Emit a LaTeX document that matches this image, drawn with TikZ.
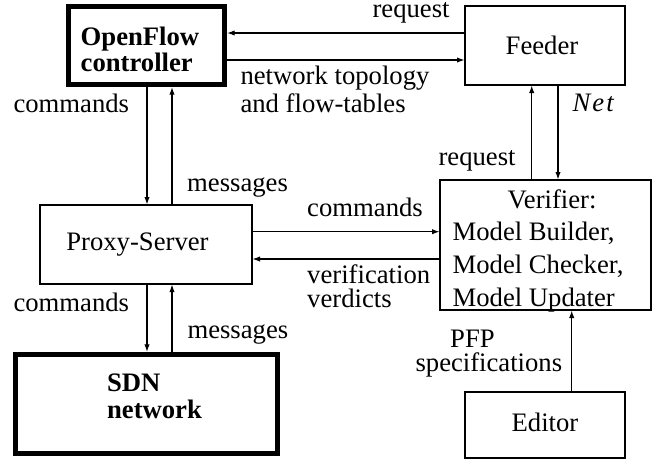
\documentclass[tikz,border=0pt]{standalone}
\usepackage{fontspec}
\setmainfont{Liberation Serif}
\usetikzlibrary{arrows.meta}
\newcommand\pxx{*0.375pt}
\begin{document}
\begin{tikzpicture}[x=0.375pt,y=-0.375pt,
  box/.style={draw, line width=0.4pt, inner sep=0pt, align=left,
    font=\fontsize{10pt}{12.2pt}\selectfont},
  heavy/.style={draw, line width=2pt, inner sep=0pt, align=left,
    font=\fontsize{10pt}{10pt}\selectfont\bfseries},
  lbl/.style={inner sep=0pt, anchor=base west, align=left,
    font=\fontsize{10pt}{9pt}\selectfont},
  arr/.style={line width=0.4pt, -{Latex[length=2.8pt,width=2pt]}}]
\useasboundingbox (0,0) rectangle (665,466);
% boxes
\node[heavy, minimum width=156\pxx, minimum height=78\pxx,
  text height=52.4\pxx, text depth=0pt] (ofc) at (146.5,45.5)
  {\hspace*{-4.9pt}OpenFlow\\\hspace*{-4.9pt}controller};
\node[box, minimum width=160\pxx, minimum height=79\pxx] (feeder) at (545,45.5)
  {\hspace*{-2.25pt}Feeder};
\node[box, minimum width=212\pxx, minimum height=79\pxx] (proxy) at (146,244.5)
  {\hspace*{-6.4pt}Proxy-Server};
\node[box, minimum width=211\pxx, minimum height=130\pxx,
  text height=122\pxx, text depth=0pt] (ver) at (545.5,245)
  {\hspace*{15pt}Verifier:\\\hspace*{-5.6pt}Model Builder,\\\hspace*{-5.6pt}Model Checker,\\\hspace*{-5.6pt}Model Updater};
\node[heavy, minimum width=262\pxx, minimum height=99\pxx,
  text height=28.6\pxx, text depth=0pt] (sdn) at (146.5,404)
  {\hspace*{6pt}SDN\\\hspace*{6pt}network};
\node[box, minimum width=160\pxx, minimum height=66\pxx,
  text height=13.4\pxx, text depth=0pt] (editor) at (545,425)
  {Editor};
% labels
\node[lbl] (lreq1) at (372,17.5) {request};
\node[lbl] (lnet) at (240,112) {network topology\\and flow-tables};
\node[lbl] (lcmd1) at (13,112) {commands};
\node[lbl] (lmsg1) at (186.7,191.7) {messages};
\node[lbl] (lreq2) at (438,165) {request};
\node[lbl] (lnetv) at (572,111) {\textit{N\kern0.8pt e\kern0.8pt t}};
\node[lbl] (lcmd2) at (306.7,216.7) {commands};
\node[lbl] (lver) at (306.7,307) {verification\\verdicts};
\node[lbl] (lcmd3) at (13,311.7) {commands};
\node[lbl] (lmsg2) at (187,338) {messages};
\node[lbl] (lpfp) at (415,371) {\hspace*{13pt}PFP\\specifications};
% connectors
\draw[arr] (feeder.west |- 0,33) -- (ofc.east |- 0,33);
\draw[arr] (ofc.east |- 0,60) -- (feeder.west |- 0,60);
\draw[arr] (ofc.south -| 147,0) -- (proxy.north -| 147,0);
\draw[arr] (proxy.north -| 172,0) -- (ofc.south -| 172,0);
\draw[arr] (proxy.south -| 147,0) -- (sdn.north -| 147,0);
\draw[arr] (sdn.north -| 172,0) -- (proxy.south -| 172,0);
\draw[arr] (proxy.east |- 0,231.7) -- (ver.west |- 0,231.7);
\draw[arr] (ver.west |- 0,259) -- (proxy.east |- 0,259);
\draw[arr] (ver.north -| 531.7,0) -- (feeder.south -| 531.7,0);
\draw[arr] (feeder.south -| 558,0) -- (ver.north -| 558,0);
\draw[arr] (editor.north -| 571.7,0) -- (ver.south -| 571.7,0);
\end{tikzpicture}
\end{document}
